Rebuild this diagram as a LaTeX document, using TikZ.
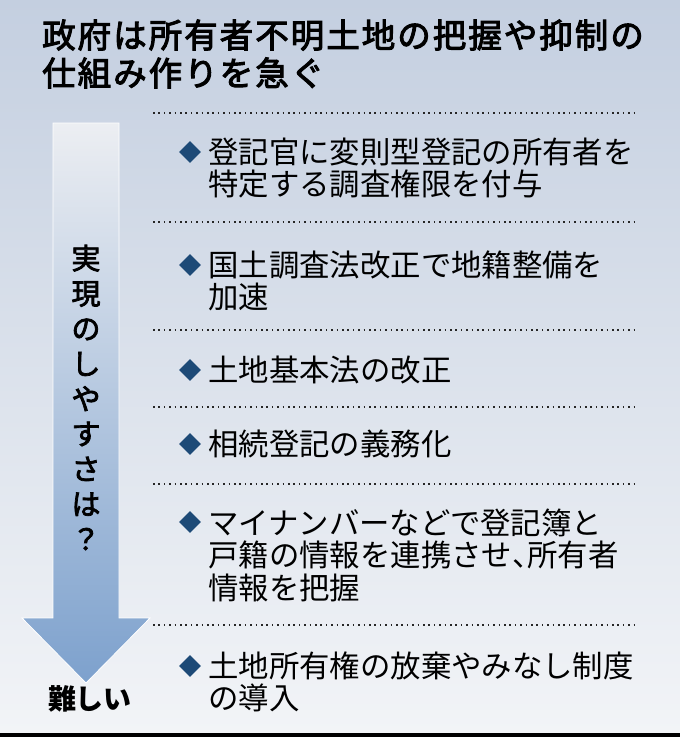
\documentclass[tikz,border=0pt]{standalone}
\usepackage{fontspec}
\setmainfont{Noto Sans CJK JP}
\newfontfamily\titlefont[LetterSpace=6, FakeBold=3]{Noto Sans CJK JP}
\newfontfamily\midfont[FakeBold=2.6]{Noto Sans CJK JP}
\usetikzlibrary{shapes.geometric}
\definecolor{bgtop}{HTML}{C4CFE0}
\definecolor{bgmid}{HTML}{D6DDE8}
\definecolor{bgbot}{HTML}{F2F4F7}
\definecolor{arrtop}{HTML}{ECEEF2}
\definecolor{arrmid}{HTML}{C3D1E3}
\definecolor{arrbot}{HTML}{7DA1CD}
\definecolor{bulletblue}{HTML}{1D4A77}
\def\halfcomma{\makebox[0.5em][l]{、}}
\tikzset{
	dotline/.style={line width=1.5pt, dash pattern=on 1.5pt off 3.9pt, color=black!85},
	itemtext/.style={anchor=west, inner sep=0pt, align=left, font=\fontsize{30.4}{32.5}\selectfont},
	bullet/.style={diamond, fill=bulletblue, inner sep=0pt, minimum width=22pt, minimum height=22pt}
}
\begin{document}
\begin{tikzpicture}[x=1pt, y=-1pt]
			%%%%% START %%%%%
			\useasboundingbox (0, 0) rectangle (680, 737);
			
			\shade[top color=bgtop, middle color=bgmid, bottom color=bgbot] (0, 0) rectangle (680, 733);
			\fill[black] (0, 733) rectangle (680, 737);
			
			\node[anchor=west, inner sep=0pt, align=left, font=\titlefont\fontsize{33.5}{38}\selectfont] (title) at (42, 54) {政府は所有者不明土地の把握や抑制の\\仕組み作りを急ぐ};
			
			\shade[top color=arrtop, middle color=arrmid, bottom color=arrbot, draw=white, line width=0.8pt]
				(53, 123) -- (119, 123) -- (119, 618) -- (150, 618) -- (86, 683) -- (22, 618) -- (53, 618) -- cycle;
			\node[inner sep=0pt, align=center, font=\midfont\fontsize{29}{35.1}\selectfont] (ease) at (86, 397.5) {実\\現\\の\\し\\や\\す\\さ\\は\\？};
			\node[inner sep=0pt, font=\bfseries\fontsize{28}{28}\selectfont] (hard) at (90, 699) {難しい};
			
			\foreach \y in {113, 222, 330, 407, 484, 625}
				\draw[dotline] (153, \y) -- (638, \y);
			
			\node[bullet] (b1) at (190, 152) {};
			\node[itemtext] (item1) at (208, 168) {登記官に変則型登記の所有者を\\特定する調査権限を付与};
			
			\node[bullet] (b2) at (190, 265) {};
			\node[itemtext] (item2) at (208, 281) {国土調査法改正で地籍整備を\\加速};
			
			\node[bullet] (b3) at (190, 370) {};
			\node[itemtext] (item3) at (208, 370) {土地基本法の改正};
			
			\node[bullet] (b4) at (190, 444) {};
			\node[itemtext] (item4) at (208, 444) {相続登記の義務化};
			
			\node[bullet] (b5) at (190, 522) {};
			\node[itemtext] (item5) at (208, 555) {マイナンバーなどで登記簿と\\戸籍の情報を連携させ\halfcomma 所有者\\情報を把握};
			
			\node[bullet] (b6) at (190, 666) {};
			\node[itemtext] (item6) at (208, 682) {土地所有権の放棄やみなし制度\\の導入};
			%%%%% END %%%%%
\end{tikzpicture}
\end{document}
